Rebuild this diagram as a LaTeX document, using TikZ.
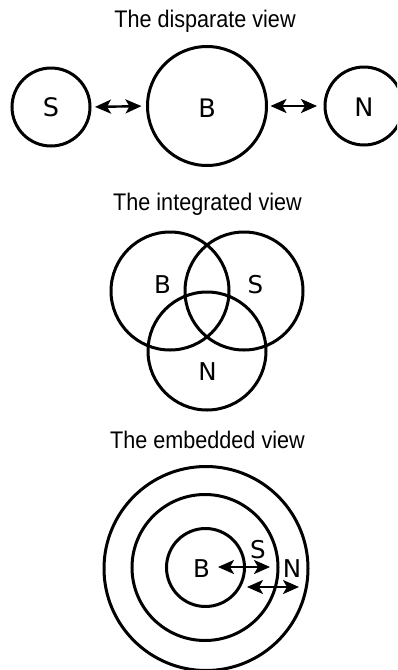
\documentclass[tikz,border=0pt]{standalone}
\usepackage{fontspec}
\setmainfont{Liberation Sans}
\newfontfamily\labelfont{DejaVu Sans}
\usetikzlibrary{arrows.meta}
\begin{document}
\begin{tikzpicture}[x=1pt,y=-1pt,
  ring/.style={draw, circle, line width=3pt, inner sep=0pt, outer sep=0pt, minimum size=#1},
  lbl/.style={font=\labelfont\fontsize{24.5}{25}\selectfont, inner sep=0pt},
  biglbl/.style={font=\labelfont\fontsize{25.5}{26}\selectfont, inner sep=0pt},
  ttl/.style={font=\fontsize{24}{25}\selectfont, xscale=0.9, inner sep=0pt, anchor=base},
  dbl/.style={{Stealth[length=16pt,width=14pt,inset=4pt]}-{Stealth[length=16pt,width=14pt,inset=4pt]}, line width=2.4pt}]
\useasboundingbox (0,0) rectangle (397,670);
\begin{scope}
\clip (0,0) rectangle (397,670);
% ---------- disparate view ----------
\node[ttl] (t1) at (205,27) {The disparate view};
\node[ring=78pt] (dS) at (51,107) {};
\node[ring=119pt] (dB) at (207,106) {};
\node[ring=78pt] (dN) at (364,106) {};
\node[biglbl] (dSl) at (51,107) {S};
\node[biglbl] (dBl) at (207,108) {B};
\node[biglbl] (dNl) at (364,107) {N};
\draw[dbl, shorten <=5pt, shorten >=6pt] (dS.east) -- (dB.west);
\draw[dbl, shorten <=4pt, shorten >=8pt] (dB.east) -- (dN.west);
% ---------- integrated view ----------
\node[ttl] (t2) at (207.5,210) {The integrated view};
\node[ring=118pt] (iB) at (170,291) {};
\node[ring=118pt] (iS) at (244,291) {};
\node[ring=118pt] (iN) at (207,351) {};
\node[lbl] (iBl) at (162.5,285) {B};
\node[lbl] (iSl) at (255.5,285) {S};
\node[lbl] (iNl) at (207.5,371.5) {N};
% ---------- embedded view ----------
\node[ttl] (t3) at (207.5,448) {The embedded view};
\node[ring=204pt] (eN) at (206,568.5) {};
\node[ring=146pt] (eS) at (205,567.5) {};
\node[ring=78pt] (eB) at (205.5,567.5) {};
\node[lbl] (eBl) at (201.5,569) {B};
\node[lbl] (eSl) at (258,549.5) {S};
\node[lbl] (eNl) at (292,568.5) {N};
\coordinate (a1) at (218,567);
\coordinate (a2) at (270,567);
\coordinate (b1) at (247,587);
\coordinate (b2) at (299,587);
\draw[dbl] (a1) -- (a2);
\draw[dbl] (b1) -- (b2);
\end{scope}
\end{tikzpicture}
\end{document}
